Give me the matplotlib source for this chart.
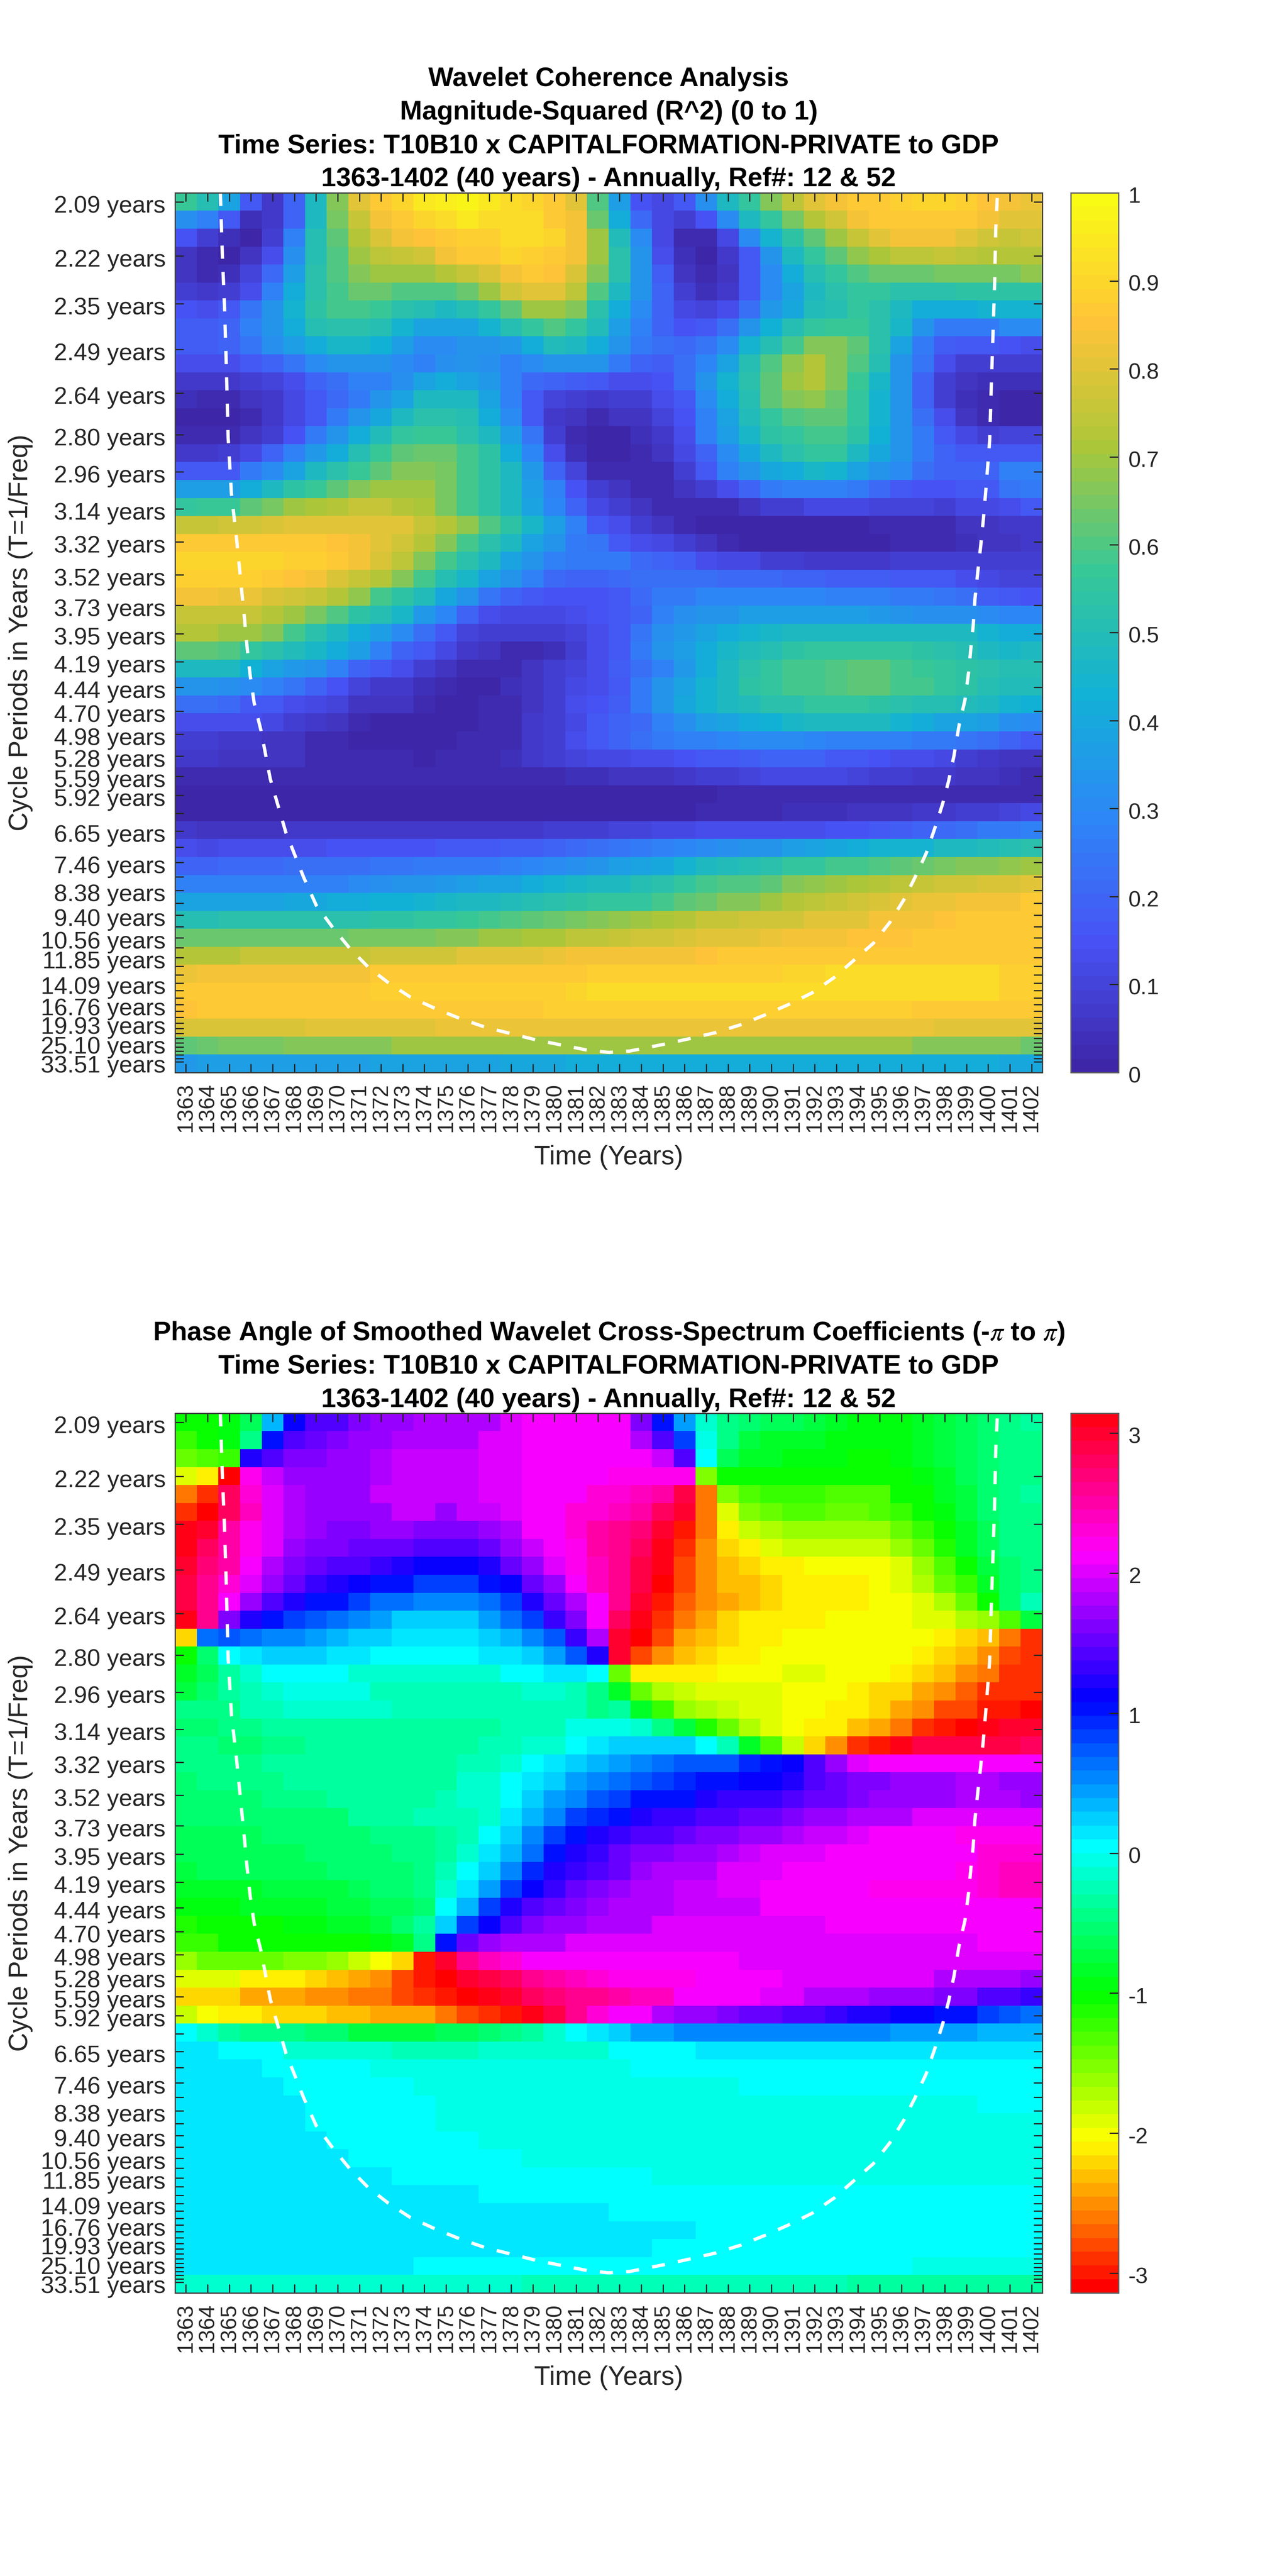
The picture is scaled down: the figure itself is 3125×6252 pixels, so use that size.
import colorsys
import numpy as np
import matplotlib
matplotlib.use('Agg')
import matplotlib.pyplot as plt
from matplotlib.colors import LinearSegmentedColormap, ListedColormap
from matplotlib.transforms import ScaledTranslation

plt.rcParams['font.family'] = ['Liberation Sans', 'DejaVu Sans']
plt.rcParams['mathtext.fontset'] = 'stix'

years = list(range(1363, 1403))

# tick periods, '' label spots are the unlabelled ticks
periods = [2.09, 2.22, 2.35, 2.49, 2.64, 2.80, 2.96, 3.14, 3.32, 3.52, 3.73, 3.95, 4.19,
           4.44, 4.70, 4.98, 5.28, 5.59, 5.92, 6.27, 6.65, 7.05, 7.46, 7.91, 8.38, 8.88,
           9.40, 9.96, 10.56, 11.18, 11.85, 12.55, 13.30, 14.09, 14.93, 15.82, 16.76,
           17.75, 18.81, 19.93, 21.12, 22.37, 23.70, 25.10, 26.60, 28.18, 29.85, 31.63, 33.51]
labelled = [2.09, 2.22, 2.35, 2.49, 2.64, 2.80, 2.96, 3.14, 3.32, 3.52, 3.73, 3.95, 4.19,
            4.44, 4.70, 4.98, 5.28, 5.59, 5.92, 6.65, 7.46, 8.38, 9.40, 10.56, 11.85,
            14.09, 16.76, 19.93, 25.10, 33.51]

freq_top = 0.4833
freq_bottom = 0.0243

# magnitude squared coherence, top row first
coherence = [
 [.57,.51,.38,.16,.07,.19,.47,.66,.80,.86,.90,.94,.96,.97,.95,.91,.90,.87,.80,.60,.37,.15,.11,.17,.32,.47,.56,.67,.74,.80,.84,.86,.87,.89,.90,.90,.89,.85,.84,.82],
 [.32,.27,.16,.04,.07,.20,.47,.65,.75,.83,.86,.90,.92,.94,.91,.91,.91,.87,.83,.64,.42,.21,.11,.08,.15,.30,.47,.56,.65,.72,.77,.83,.87,.87,.87,.87,.86,.83,.80,.80],
 [.15,.09,.04,.01,.08,.27,.50,.62,.72,.79,.83,.85,.87,.89,.89,.91,.91,.90,.83,.69,.49,.31,.12,.03,.03,.11,.30,.45,.54,.62,.70,.76,.80,.84,.84,.84,.81,.78,.76,.78],
 [.06,.02,.01,.05,.13,.32,.50,.60,.70,.74,.76,.78,.83,.86,.87,.90,.89,.87,.83,.69,.52,.33,.14,.04,.00,.07,.17,.33,.47,.55,.61,.68,.71,.74,.74,.76,.74,.73,.73,.73],
 [.06,.03,.04,.10,.21,.37,.52,.60,.67,.69,.69,.70,.72,.75,.79,.84,.87,.85,.79,.67,.52,.33,.18,.06,.02,.06,.16,.30,.42,.50,.55,.60,.63,.63,.63,.65,.65,.65,.65,.68],
 [.08,.07,.08,.14,.27,.41,.52,.59,.63,.63,.60,.60,.60,.64,.70,.77,.80,.80,.74,.60,.48,.33,.19,.08,.04,.07,.16,.30,.38,.47,.52,.55,.55,.53,.52,.52,.54,.54,.54,.54],
 [.15,.13,.16,.24,.33,.45,.54,.59,.59,.57,.53,.50,.47,.50,.55,.62,.70,.70,.66,.52,.41,.30,.20,.12,.10,.13,.23,.35,.40,.49,.51,.55,.52,.47,.42,.41,.42,.44,.44,.45],
 [.18,.18,.19,.27,.34,.42,.50,.53,.53,.50,.45,.38,.38,.38,.45,.50,.56,.60,.56,.49,.37,.28,.20,.15,.16,.23,.34,.43,.50,.56,.57,.57,.53,.46,.33,.26,.26,.26,.30,.30],
 [.18,.18,.20,.24,.32,.36,.42,.46,.46,.43,.36,.31,.31,.33,.34,.35,.42,.49,.47,.42,.33,.26,.22,.21,.24,.30,.44,.50,.58,.66,.66,.62,.52,.38,.25,.18,.17,.17,.15,.13],
 [.14,.13,.14,.16,.19,.24,.30,.34,.34,.33,.30,.28,.32,.33,.32,.27,.31,.34,.34,.33,.26,.20,.18,.23,.29,.38,.51,.60,.68,.73,.67,.60,.50,.34,.24,.13,.09,.08,.08,.08],
 [.07,.07,.07,.09,.10,.14,.20,.22,.27,.27,.32,.38,.41,.38,.35,.27,.21,.20,.18,.16,.14,.14,.15,.22,.33,.45,.53,.62,.70,.73,.67,.57,.46,.33,.20,.09,.06,.04,.04,.04],
 [.04,.02,.03,.05,.07,.12,.17,.21,.26,.33,.39,.47,.47,.47,.39,.27,.16,.10,.08,.07,.08,.09,.13,.17,.30,.41,.51,.61,.66,.68,.63,.55,.45,.33,.19,.09,.04,.02,.00,.00],
 [.01,.01,.01,.03,.07,.12,.17,.26,.33,.40,.47,.53,.53,.50,.42,.30,.17,.07,.06,.02,.05,.06,.10,.15,.27,.38,.49,.56,.60,.62,.62,.55,.45,.33,.22,.13,.05,.03,.00,.00],
 [.02,.02,.03,.05,.09,.15,.26,.33,.41,.49,.55,.57,.57,.52,.48,.36,.24,.09,.03,.00,.01,.04,.07,.13,.27,.37,.46,.54,.56,.58,.58,.54,.43,.33,.25,.17,.12,.09,.10,.10],
 [.07,.07,.09,.12,.19,.27,.35,.41,.51,.57,.61,.63,.63,.58,.54,.42,.29,.13,.04,.01,.00,.03,.06,.12,.19,.31,.40,.48,.53,.55,.55,.48,.40,.33,.25,.20,.17,.17,.16,.16],
 [.16,.16,.17,.25,.30,.39,.47,.52,.57,.62,.67,.67,.65,.59,.54,.47,.35,.20,.10,.03,.02,.02,.03,.09,.17,.28,.34,.40,.42,.46,.44,.39,.34,.30,.22,.20,.20,.20,.27,.27],
 [.37,.36,.36,.42,.47,.54,.57,.61,.66,.69,.69,.69,.65,.59,.54,.47,.37,.27,.15,.08,.06,.03,.03,.06,.09,.14,.19,.25,.27,.28,.28,.25,.21,.17,.15,.15,.16,.17,.24,.26],
 [.55,.57,.57,.61,.65,.69,.71,.73,.75,.75,.72,.71,.65,.59,.54,.47,.38,.29,.20,.12,.08,.05,.02,.02,.02,.03,.06,.08,.09,.11,.11,.11,.10,.10,.10,.09,.11,.12,.13,.17],
 [.75,.75,.77,.77,.79,.81,.81,.81,.81,.81,.80,.76,.73,.68,.60,.54,.46,.37,.27,.16,.14,.08,.06,.03,.01,.00,.00,.00,.00,.00,.01,.01,.02,.02,.03,.03,.05,.06,.07,.07],
 [.87,.87,.87,.87,.87,.87,.87,.85,.83,.81,.77,.73,.67,.58,.52,.47,.39,.33,.26,.24,.17,.14,.12,.09,.05,.03,.01,.01,.01,.01,.01,.01,.01,.02,.02,.03,.04,.05,.06,.07],
 [.90,.90,.90,.90,.90,.89,.88,.86,.83,.79,.74,.67,.59,.52,.47,.38,.33,.28,.26,.26,.25,.21,.20,.18,.13,.12,.11,.09,.08,.07,.07,.07,.07,.08,.08,.08,.08,.08,.08,.08],
 [.89,.89,.89,.89,.87,.85,.84,.79,.76,.72,.66,.58,.51,.46,.39,.33,.27,.21,.20,.20,.21,.23,.23,.23,.22,.21,.21,.21,.19,.19,.18,.18,.18,.16,.16,.16,.13,.12,.10,.10],
 [.83,.83,.82,.82,.79,.78,.76,.73,.68,.59,.54,.49,.40,.33,.24,.19,.16,.15,.15,.15,.17,.21,.26,.26,.29,.29,.29,.29,.29,.29,.28,.28,.27,.26,.26,.24,.22,.18,.16,.15],
 [.76,.76,.75,.75,.72,.69,.65,.60,.54,.50,.46,.35,.29,.20,.14,.11,.11,.11,.14,.15,.16,.20,.27,.32,.33,.34,.36,.36,.37,.37,.37,.37,.35,.33,.32,.32,.32,.31,.29,.29],
 [.72,.72,.70,.69,.67,.59,.53,.47,.41,.37,.30,.23,.16,.10,.08,.08,.08,.08,.10,.13,.16,.24,.32,.35,.39,.42,.44,.46,.47,.47,.47,.47,.47,.47,.47,.47,.47,.44,.42,.41],
 [.62,.61,.60,.56,.53,.49,.46,.41,.36,.27,.20,.17,.11,.07,.05,.02,.02,.04,.09,.14,.17,.26,.33,.37,.41,.46,.49,.50,.54,.55,.55,.55,.55,.55,.54,.52,.50,.47,.46,.47],
 [.47,.47,.47,.43,.38,.35,.33,.27,.20,.16,.13,.09,.05,.03,.03,.03,.05,.08,.10,.14,.18,.22,.28,.35,.42,.47,.53,.56,.58,.58,.60,.61,.61,.59,.57,.56,.54,.52,.51,.50],
 [.34,.34,.32,.30,.28,.24,.19,.15,.10,.07,.07,.04,.03,.01,.01,.04,.05,.08,.12,.14,.17,.26,.33,.38,.44,.47,.54,.56,.58,.59,.60,.61,.61,.59,.58,.56,.54,.50,.49,.49],
 [.22,.22,.21,.17,.16,.14,.12,.10,.06,.05,.05,.02,.01,.00,.03,.03,.05,.08,.13,.15,.18,.25,.33,.40,.45,.47,.49,.52,.53,.55,.55,.55,.54,.53,.51,.50,.49,.47,.44,.43],
 [.13,.13,.14,.14,.12,.09,.07,.05,.03,.01,.01,.01,.01,.00,.02,.03,.07,.08,.12,.16,.20,.21,.27,.32,.37,.39,.41,.43,.46,.47,.47,.47,.47,.44,.41,.39,.38,.36,.32,.30],
 [.08,.08,.07,.07,.06,.05,.03,.03,.01,.00,.00,.00,.00,.02,.03,.03,.07,.08,.14,.16,.19,.22,.26,.27,.28,.29,.31,.31,.31,.29,.28,.28,.27,.27,.26,.25,.24,.22,.19,.16],
 [.07,.07,.06,.06,.06,.05,.03,.03,.02,.03,.03,.01,.02,.02,.02,.04,.07,.08,.10,.11,.12,.13,.14,.15,.17,.17,.18,.19,.19,.19,.17,.16,.15,.14,.13,.11,.09,.07,.06,.05],
 [.02,.02,.03,.03,.03,.03,.03,.03,.03,.03,.03,.03,.03,.03,.03,.03,.03,.03,.04,.04,.05,.06,.06,.07,.08,.09,.10,.11,.11,.11,.11,.10,.09,.08,.07,.07,.06,.05,.04,.03],
 [.00,.00,.00,.00,.01,.01,.01,.01,.01,.01,.01,.01,.00,.00,.00,.00,.00,.00,.00,.00,.00,.00,.01,.01,.01,.02,.02,.02,.03,.03,.03,.03,.03,.03,.03,.03,.02,.03,.03,.03],
 [.01,.00,.00,.00,.00,.00,.00,.00,.00,.00,.00,.00,.00,.00,.00,.00,.00,.00,.00,.01,.01,.01,.01,.01,.02,.03,.03,.03,.04,.04,.04,.05,.06,.06,.07,.07,.08,.09,.10,.11],
 [.07,.06,.05,.05,.05,.07,.07,.07,.07,.07,.07,.07,.07,.07,.07,.07,.07,.08,.08,.09,.10,.10,.11,.12,.13,.13,.14,.14,.14,.14,.15,.15,.16,.18,.20,.21,.23,.25,.26,.28],
 [.14,.12,.13,.13,.13,.13,.14,.15,.15,.15,.15,.15,.16,.16,.16,.18,.18,.20,.21,.22,.24,.26,.27,.29,.31,.32,.33,.34,.36,.38,.40,.42,.44,.45,.45,.47,.47,.49,.51,.52],
 [.20,.20,.21,.21,.21,.22,.22,.23,.23,.24,.24,.25,.25,.25,.26,.27,.29,.30,.32,.34,.36,.38,.40,.44,.47,.49,.50,.53,.55,.56,.58,.59,.60,.62,.63,.65,.66,.66,.68,.70],
 [.27,.27,.27,.27,.27,.28,.28,.28,.30,.32,.33,.34,.35,.36,.38,.38,.41,.44,.46,.47,.48,.50,.53,.56,.58,.60,.60,.62,.66,.68,.70,.71,.73,.74,.76,.77,.78,.79,.79,.81],
 [.39,.38,.39,.39,.39,.40,.40,.42,.42,.43,.43,.45,.46,.47,.48,.49,.50,.52,.54,.55,.56,.56,.58,.62,.64,.66,.66,.70,.72,.74,.76,.77,.79,.80,.82,.82,.84,.84,.84,.86],
 [.51,.51,.52,.52,.52,.52,.52,.53,.53,.54,.54,.55,.56,.57,.58,.60,.62,.64,.65,.66,.68,.70,.71,.73,.75,.76,.77,.78,.78,.80,.80,.81,.83,.84,.84,.85,.86,.86,.86,.86],
 [.63,.63,.63,.63,.63,.63,.63,.63,.65,.65,.65,.65,.66,.67,.69,.70,.71,.71,.74,.74,.76,.77,.77,.79,.80,.80,.81,.82,.83,.84,.84,.85,.85,.85,.86,.86,.86,.86,.87,.87],
 [.72,.72,.72,.75,.75,.75,.76,.76,.76,.78,.78,.78,.78,.80,.80,.81,.81,.82,.83,.83,.83,.83,.84,.84,.85,.86,.86,.86,.86,.86,.87,.87,.87,.87,.87,.87,.87,.87,.87,.87],
 [.82,.84,.84,.84,.84,.84,.84,.84,.84,.86,.86,.86,.86,.86,.86,.87,.87,.87,.87,.88,.88,.88,.89,.89,.89,.89,.89,.89,.90,.90,.91,.91,.91,.91,.91,.91,.91,.91,.89,.89],
 [.86,.86,.87,.87,.87,.87,.87,.87,.87,.88,.88,.88,.88,.88,.88,.89,.89,.89,.90,.91,.91,.91,.91,.91,.91,.91,.91,.91,.91,.91,.91,.91,.91,.91,.91,.91,.91,.91,.88,.88],
 [.85,.86,.86,.86,.86,.86,.86,.87,.87,.87,.87,.87,.87,.87,.87,.87,.87,.89,.89,.89,.89,.89,.89,.89,.89,.89,.89,.89,.89,.88,.88,.88,.88,.88,.87,.87,.87,.87,.87,.87],
 [.79,.79,.79,.79,.79,.79,.80,.80,.80,.80,.80,.80,.82,.82,.82,.82,.82,.82,.82,.82,.82,.82,.82,.82,.82,.82,.82,.82,.82,.82,.82,.82,.82,.82,.82,.81,.80,.80,.80,.80],
 [.62,.64,.65,.65,.65,.67,.67,.67,.67,.67,.69,.69,.69,.69,.69,.69,.69,.70,.70,.70,.70,.70,.70,.70,.70,.70,.70,.70,.70,.70,.70,.70,.70,.70,.67,.67,.67,.67,.67,.64],
 [.35,.36,.36,.36,.36,.37,.37,.37,.37,.38,.38,.38,.38,.39,.39,.40,.40,.40,.41,.41,.41,.41,.41,.42,.42,.42,.42,.42,.42,.42,.42,.42,.42,.42,.42,.42,.41,.41,.40,.40],
]

# phase angle in radians, top row first
phase = [
 [-1.05,-1.05,-.9,-.65,.3,1.15,1.4,1.45,1.6,1.75,1.75,1.85,1.85,1.85,1.85,1.98,2.09,2.12,2.15,2.15,2.09,1.6,1.05,.42,-.15,-.4,-.55,-.6,-.65,-.75,-.8,-.9,-.9,-.9,-.8,-.7,-.6,-.5,-.45,-.35],
 [-1.25,-1.05,-.95,-.4,1.05,1.4,1.5,1.58,1.72,1.72,1.85,1.85,1.85,1.85,1.98,1.98,2.09,2.12,2.12,2.12,2.09,1.85,1.4,.8,-.05,-.45,-.7,-.8,-.85,-.85,-.9,-.9,-.9,-.95,-.8,-.75,-.65,-.55,-.45,-.4],
 [-1.45,-1.3,-1.2,1.25,1.45,1.6,1.6,1.72,1.72,1.85,1.9,1.9,1.9,1.9,2.0,2.0,2.09,2.12,2.12,2.12,2.09,2.09,1.88,1.45,.05,-.65,-.85,-.85,-.95,-.95,-.95,-1.0,-1.0,-.95,-.85,-.75,-.6,-.55,-.42,-.4],
 [-1.95,-2.15,-3.14,2.2,1.88,1.75,1.75,1.75,1.75,1.85,1.88,1.88,1.88,1.88,2.0,2.0,2.1,2.12,2.13,2.13,2.2,2.2,2.2,2.2,-1.55,-1.05,-1.05,-1.05,-1.05,-1.05,-1.05,-1.05,-1.05,-1.05,-.95,-.8,-.6,-.55,-.42,-.4],
 [-2.6,-2.9,2.8,2.35,2.0,1.85,1.75,1.75,1.75,1.88,1.88,1.88,1.88,1.88,2.0,2.0,2.09,2.15,2.15,2.3,2.3,2.4,2.5,2.85,-2.6,-1.55,-1.3,-1.2,-1.2,-1.2,-1.3,-1.3,-1.3,-1.05,-1.05,-.85,-.75,-.55,-.42,-.37],
 [-2.85,-3.1,2.75,2.4,2.0,1.85,1.75,1.75,1.75,1.75,1.9,1.9,1.73,1.9,1.9,2.0,2.09,2.15,2.3,2.35,2.4,2.5,2.75,3.0,-2.6,-1.95,-1.5,-1.4,-1.35,-1.35,-1.45,-1.45,-1.35,-1.25,-1.05,-.95,-.7,-.55,-.45,-.4],
 [3.1,3.0,2.55,2.2,2.0,1.85,1.73,1.6,1.6,1.72,1.75,1.62,1.62,1.62,1.72,1.85,2.09,2.15,2.3,2.5,2.6,2.7,2.95,-2.95,-2.6,-2.15,-1.85,-1.75,-1.65,-1.65,-1.65,-1.65,-1.65,-1.4,-1.25,-1.05,-.8,-.6,-.45,-.4],
 [3.05,2.8,2.55,2.2,2.0,1.72,1.6,1.6,1.5,1.5,1.52,1.42,1.42,1.42,1.55,1.75,1.95,2.15,2.25,2.5,2.65,2.8,3.05,-2.9,-2.5,-2.25,-2.09,-1.95,-1.85,-1.85,-1.85,-1.85,-1.85,-1.6,-1.4,-1.15,-.85,-.6,-.45,-.4],
 [2.95,2.7,2.5,2.1,1.85,1.6,1.5,1.42,1.42,1.32,1.2,1.15,1.15,1.15,1.25,1.55,1.75,2.0,2.2,2.4,2.65,2.9,3.14,-2.8,-2.5,-2.35,-2.2,-2.09,-2.09,-2.0,-2.0,-2.0,-2.0,-1.88,-1.65,-1.3,-1.05,-.75,-.55,-.4],
 [2.9,2.65,2.3,2.0,1.75,1.5,1.35,1.25,1.15,1.05,1.0,.8,.8,.8,1.0,1.15,1.55,1.75,2.1,2.4,2.6,2.9,-3.14,-2.8,-2.5,-2.35,-2.28,-2.18,-2.09,-2.09,-2.09,-2.09,-1.97,-1.88,-1.75,-1.45,-1.2,-.85,-.55,-.4],
 [2.9,2.6,2.09,1.75,1.4,1.25,1.05,1.0,.8,.68,.6,.52,.52,.52,.68,.8,1.18,1.5,1.85,2.1,2.6,3.0,-2.95,-2.7,-2.5,-2.4,-2.3,-2.2,-2.09,-2.09,-2.09,-2.09,-1.97,-1.97,-1.88,-1.7,-1.4,-1.05,-.55,-.2],
 [3.08,2.6,1.6,1.25,1.05,.85,.7,.6,.5,.4,.28,.28,.28,.28,.4,.6,.85,1.3,1.6,2.09,2.8,3.05,-2.9,-2.62,-2.42,-2.25,-2.15,-2.09,-2.09,-2.09,-1.97,-1.97,-1.97,-1.97,-1.87,-1.87,-1.75,-1.6,-1.3,-.7],
 [-2.2,.6,.75,.65,.55,.55,.42,.3,.2,.2,.13,.13,.13,.13,.2,.3,.5,.75,1.3,1.85,2.95,-3.14,-2.75,-2.45,-2.35,-2.2,-2.09,-2.09,-1.97,-1.97,-1.97,-1.97,-1.97,-1.97,-2.0,-2.09,-2.16,-2.3,-2.6,-2.9],
 [-1.05,-.55,.05,.15,.25,.25,.25,.15,.15,.05,.05,.05,.05,.05,.18,.15,.25,.42,.7,1.25,3.0,-2.75,-2.48,-2.35,-2.2,-2.09,-2.09,-1.97,-1.97,-1.97,-1.97,-1.97,-1.97,-1.97,-2.09,-2.2,-2.35,-2.55,-2.75,-2.9],
 [-.8,-.6,-.35,-.1,.05,.05,.05,.05,-.1,-.1,-.1,-.1,-.1,-.1,-.1,.05,.05,.13,.13,.05,-1.45,-2.15,-2.15,-2.09,-2.09,-1.97,-1.97,-1.97,-1.87,-1.87,-1.97,-1.97,-1.97,-2.09,-2.18,-2.35,-2.5,-2.65,-2.85,-2.9],
 [-.7,-.55,-.35,-.25,-.15,-.05,-.05,-.05,-.05,-.2,-.2,-.2,-.2,-.2,-.2,-.2,-.1,-.1,-.25,-.4,-.8,-1.4,-1.75,-1.85,-1.87,-1.87,-1.87,-1.87,-1.97,-1.97,-1.97,-2.09,-2.16,-2.25,-2.4,-2.55,-2.7,-2.85,-2.9,-2.9],
 [-.45,-.45,-.4,-.27,-.25,-.15,-.15,-.15,-.15,-.15,-.2,-.2,-.2,-.2,-.2,-.2,-.22,-.22,-.22,-.45,-.3,-.8,-1.2,-1.6,-1.7,-1.8,-1.87,-1.87,-1.97,-1.97,-2.09,-2.15,-2.25,-2.38,-2.55,-2.75,-2.82,-2.95,-3.0,-3.14],
 [-.5,-.5,-.42,-.42,-.3,-.3,-.3,-.3,-.3,-.35,-.35,-.35,-.35,-.35,-.35,-.25,-.25,-.25,-.05,-.05,-.02,-.15,-.4,-.75,-1.15,-1.4,-1.7,-1.87,-1.97,-2.09,-2.15,-2.35,-2.45,-2.65,-2.85,-3.0,-3.14,3.05,3.02,2.95],
 [-.45,-.45,-.5,-.5,-.4,-.4,-.3,-.3,-.3,-.3,-.35,-.35,-.35,-.35,-.2,-.2,-.1,-.1,.05,.13,.25,.25,.25,.25,.05,-.25,-.8,-1.3,-1.85,-2.25,-2.55,-2.85,-3.0,3.08,2.9,2.85,2.85,2.85,2.85,2.75],
 [-.45,-.45,-.45,-.45,-.35,-.35,-.35,-.35,-.3,-.3,-.3,-.3,-.3,-.2,-.2,-.1,.05,.15,.25,.33,.42,.5,.65,.72,.72,.78,.9,1.02,1.15,1.42,1.75,2.0,2.09,2.09,2.12,2.12,2.12,2.12,2.12,2.12],
 [-.5,-.45,-.45,-.45,-.45,-.35,-.35,-.35,-.35,-.35,-.3,-.3,-.3,-.18,-.1,.05,.1,.25,.4,.5,.6,.72,.85,.9,1.05,1.05,1.15,1.15,1.22,1.4,1.5,1.65,1.65,1.75,1.75,1.75,1.85,1.85,1.75,1.75],
 [-.5,-.55,-.5,-.5,-.45,-.45,-.45,-.35,-.35,-.35,-.3,-.3,-.2,-.18,-.1,.05,.28,.42,.52,.72,.8,1.0,1.05,1.05,1.18,1.28,1.35,1.35,1.42,1.5,1.55,1.65,1.75,1.75,1.75,1.75,1.85,1.85,1.85,1.75],
 [-.55,-.55,-.5,-.5,-.5,-.5,-.5,-.5,-.35,-.35,-.35,-.25,-.25,-.2,-.1,.13,.3,.5,.8,.95,1.05,1.2,1.3,1.35,1.38,1.42,1.5,1.5,1.6,1.68,1.72,1.85,1.85,1.85,1.97,1.97,1.97,1.97,1.97,1.97],
 [-.6,-.6,-.6,-.6,-.52,-.52,-.52,-.52,-.52,-.4,-.4,-.4,-.3,-.2,.05,.25,.5,.8,1.05,1.2,1.28,1.45,1.45,1.5,1.62,1.62,1.72,1.72,1.85,1.92,1.92,1.97,2.09,2.09,2.09,2.09,2.2,2.2,2.2,2.2],
 [-.65,-.65,-.65,-.65,-.65,-.65,-.5,-.5,-.5,-.5,-.4,-.4,-.3,-.1,.12,.38,.68,1.05,1.2,1.35,1.57,1.62,1.65,1.72,1.75,1.85,1.9,1.97,1.97,2.0,2.09,2.09,2.09,2.09,2.09,2.09,2.09,2.3,2.35,2.35],
 [-.75,-.65,-.65,-.65,-.65,-.65,-.65,-.55,-.55,-.55,-.5,-.4,-.25,.05,.25,.55,.95,1.2,1.35,1.45,1.55,1.7,1.83,1.85,1.85,1.97,1.97,1.97,2.09,2.09,2.09,2.09,2.15,2.15,2.15,2.15,2.25,2.3,2.4,2.4],
 [-.8,-.8,-.8,-.8,-.7,-.7,-.7,-.7,-.6,-.55,-.5,-.45,-.15,.13,.45,.85,1.15,1.35,1.5,1.62,1.7,1.85,1.85,1.95,1.95,1.97,1.97,2.09,2.09,2.09,2.09,2.09,2.2,2.2,2.2,2.2,2.2,2.3,2.4,2.45],
 [-.9,-.9,-.9,-.85,-.85,-.85,-.85,-.7,-.7,-.6,-.6,-.5,.05,.38,.8,1.2,1.42,1.5,1.6,1.7,1.8,1.8,1.85,1.95,1.95,1.95,1.95,2.09,2.09,2.09,2.09,2.09,2.09,2.09,2.09,2.12,2.12,2.15,2.15,2.15],
 [-1.1,-1.0,-1.0,-1.0,-1.0,-.9,-.9,-.8,-.8,-.72,-.55,-.38,.25,.85,1.15,1.4,1.6,1.72,1.75,1.85,1.85,1.85,1.97,1.97,1.97,1.97,1.97,1.97,1.97,1.97,2.09,2.09,2.09,2.09,2.09,2.09,2.09,2.09,2.09,2.09],
 [-1.2,-1.2,-1.05,-1.05,-1.05,-1.05,-1.05,-1.05,-1.05,-.95,-.85,-.4,1.0,1.55,1.72,1.85,1.85,1.85,1.97,1.97,1.97,1.97,1.97,1.97,1.97,1.97,1.97,1.97,1.97,1.97,1.97,1.97,1.97,1.97,1.97,1.97,1.97,2.09,2.09,2.09],
 [-1.6,-1.45,-1.45,-1.45,-1.45,-1.55,-1.55,-1.65,-1.8,-1.97,-2.25,-2.95,3.0,2.65,2.4,2.3,2.09,2.09,2.09,2.09,2.09,2.09,2.09,2.09,2.09,2.09,1.97,1.97,1.97,1.97,1.97,1.97,1.97,1.97,1.97,1.97,1.97,1.97,1.97,1.97],
 [-1.95,-1.95,-1.95,-2.09,-2.09,-2.09,-2.2,-2.3,-2.38,-2.55,-2.78,-2.95,-3.14,3.0,2.85,2.75,2.6,2.5,2.4,2.3,2.2,2.2,2.2,2.2,2.09,2.09,2.09,2.09,1.97,1.97,1.97,1.97,1.97,1.97,1.97,1.85,1.85,1.85,1.85,1.72],
 [-2.25,-2.25,-2.25,-2.36,-2.36,-2.36,-2.5,-2.5,-2.6,-2.65,-2.75,-2.85,-2.95,-3.14,3.05,3.0,2.8,2.7,2.6,2.6,2.5,2.4,2.4,2.09,2.09,2.09,2.09,1.97,1.97,1.85,1.85,1.85,1.72,1.72,1.72,1.6,1.6,1.45,1.45,1.35],
 [-1.85,-1.97,-2.09,-2.09,-2.18,-2.18,-2.18,-2.28,-2.28,-2.4,-2.45,-2.45,-2.6,-2.75,-2.85,-3.0,3.05,2.85,2.6,2.3,2.09,2.09,1.85,1.72,1.72,1.6,1.48,1.48,1.4,1.4,1.3,1.18,1.18,1.1,1.1,1.05,1.0,.85,.72,.6],
 [.05,-.15,-.3,-.42,-.42,-.42,-.55,-.55,-.7,-.7,-.7,-.7,-.6,-.6,-.5,-.42,-.3,-.1,.05,.13,.25,.4,.4,.5,.5,.52,.52,.52,.52,.52,.52,.52,.52,.42,.42,.42,.42,.32,.32,.32],
 [.13,.13,.05,.05,.05,-.15,-.15,-.15,-.15,-.15,-.27,-.27,-.27,-.27,-.15,-.15,-.15,-.15,-.15,-.15,.05,.05,.05,.05,.13,.13,.13,.13,.13,.13,.13,.13,.13,.13,.13,.13,.13,.13,.13,.13],
 [.13,.13,.13,.13,.05,.05,.05,.05,.05,-.05,-.05,-.05,-.05,-.05,-.05,-.05,-.05,-.05,-.05,-.05,-.05,.05,.05,.05,.05,.05,.05,.05,.05,.05,.05,.05,.05,.05,.05,.05,.05,.05,.05,.05],
 [.13,.13,.13,.13,.13,.05,.05,.05,.05,.05,.05,-.05,-.05,-.05,-.05,-.05,-.05,-.05,-.05,-.05,-.05,-.05,-.05,-.05,-.05,-.05,.05,.05,.05,.05,.05,.05,.05,.05,.05,.05,.05,.05,.05,.05],
 [.13,.13,.13,.13,.13,.13,.05,.05,.05,.05,.05,.05,-.05,-.05,-.05,-.05,-.05,-.05,-.05,-.05,-.05,-.05,-.05,-.05,-.05,-.05,-.05,-.05,-.05,-.05,-.05,-.05,-.05,-.05,-.05,-.05,-.05,.05,.05,.05],
 [.13,.13,.13,.13,.13,.13,.05,.05,.05,.05,.05,.05,-.05,-.05,-.05,-.05,-.05,-.05,-.05,-.05,-.05,-.05,-.05,-.05,-.05,-.05,-.05,-.05,-.05,-.05,-.05,-.05,-.05,-.05,-.05,-.05,-.05,-.05,-.05,-.05],
 [.13,.13,.13,.13,.13,.13,.13,.05,.05,.05,.05,.05,.05,.05,-.05,-.05,-.05,-.05,-.05,-.05,-.05,-.05,-.05,-.05,-.05,-.05,-.05,-.05,-.05,-.05,-.05,-.05,-.05,-.05,-.05,-.05,-.05,-.05,-.05,-.05],
 [.13,.13,.13,.13,.13,.13,.13,.13,.05,.05,.05,.05,.05,.05,.05,.05,-.05,-.05,-.05,-.05,-.05,-.05,-.05,-.05,-.05,-.05,-.05,-.05,-.05,-.05,-.05,-.05,-.05,-.05,-.05,-.05,-.05,-.05,-.05,-.05],
 [.13,.13,.13,.13,.13,.13,.13,.13,.13,.13,.05,.05,.05,.05,.05,.05,.05,.05,.05,.05,.05,.05,-.05,-.05,-.05,-.05,-.05,-.05,-.05,-.05,-.05,-.05,-.05,-.05,-.05,-.05,-.05,-.05,-.05,-.05],
 [.13,.13,.13,.13,.13,.13,.13,.13,.13,.13,.13,.13,.13,.13,.05,.05,.05,.05,.05,.05,.05,.05,.05,.05,.05,.05,.05,.05,.05,.05,.05,.05,.05,.05,.05,.05,.05,.05,.05,.05],
 [.13,.13,.13,.13,.13,.13,.13,.13,.13,.13,.13,.13,.13,.13,.13,.13,.13,.13,.13,.13,.05,.05,.05,.05,.05,.05,.05,.05,.05,.05,.05,.05,.05,.05,.05,.05,.05,.05,.05,.05],
 [.13,.13,.13,.13,.13,.13,.13,.13,.13,.13,.13,.13,.13,.13,.13,.13,.13,.13,.13,.13,.13,.13,.13,.13,.05,.05,.05,.05,.05,.05,.05,.05,.05,.05,.05,.05,.05,.05,.05,.05],
 [.13,.13,.13,.13,.13,.13,.13,.13,.13,.13,.13,.13,.13,.13,.13,.13,.13,.13,.13,.13,.13,.13,.05,.05,.05,.05,.05,.05,.05,.05,.05,.05,.05,.05,.05,.05,.05,.05,.05,.05],
 [.13,.13,.13,.13,.13,.13,.13,.13,.13,.13,.13,.05,.05,.05,.05,.05,.05,.05,.05,.05,.05,.05,.05,.05,.05,.05,.05,.05,.05,.05,.05,.05,.05,.05,-.05,-.05,-.05,-.05,-.05,-.05],
 [-.15,-.15,-.15,-.15,-.15,-.15,-.15,-.15,-.15,-.15,-.15,-.15,-.15,-.15,-.15,-.15,-.27,-.27,-.27,-.27,-.27,-.27,-.27,-.27,-.27,-.27,-.27,-.27,-.27,-.27,-.27,-.35,-.35,-.35,-.35,-.35,-.35,-.35,-.35,-.35],
]

# cone of influence
coi_years = [1364.59, 1364.68, 1364.78, 1364.86, 1364.95, 1365.10, 1365.35, 1365.71, 1365.82, 1365.96,
             1366.15, 1366.47, 1366.89, 1367.61, 1368.43, 1369.01, 1369.79, 1370.55, 1371.39, 1372.34,
             1373.36, 1374.52, 1375.66, 1376.82, 1378.09, 1379.23, 1380.39, 1381.55, 1382.50, 1383.47,
             1384.99, 1386.28, 1387.42, 1388.58, 1389.72, 1390.88, 1391.90, 1392.93, 1393.82, 1394.71,
             1395.47, 1396.12, 1396.63, 1397.14, 1397.52, 1397.90, 1398.17, 1398.42, 1398.66, 1398.93,
             1399.10, 1399.21, 1399.31, 1399.39, 1399.52, 1399.65, 1399.78, 1399.88, 1399.97, 1400.07,
             1400.14, 1400.22, 1400.30, 1400.35, 1400.43]
coi_freq = [.4833, .4517, .4246, .3952, .3556, .3264, .3014, .2603, .2466, .2320,
            .2171, .2025, .1776, .1496, .1262, .1116, .0997, .0892, .0795, .0711,
            .0636, .0576, .0524, .0479, .0443, .0411, .0385, .0359, .0348, .0355,
            .0389, .0421, .0451, .0492, .0544, .0602, .0660, .0741, .0830, .0918,
            .1027, .1146, .1262, .1386, .1511, .1645, .1761, .1894, .2055, .2186,
            .2333, .2466, .2574, .2713, .2853, .2984, .3130, .3264, .3395, .3541,
            .3805, .4085, .4364, .4642, .4833]

titles_top = ['Wavelet Coherence Analysis',
              'Magnitude-Squared (R^2) (0 to 1)',
              'Time Series: T10B10 x CAPITALFORMATION-PRIVATE to GDP',
              '1363-1402 (40 years) - Annually, Ref#: 12 & 52']
titles_bottom = [r'Phase Angle of Smoothed Wavelet Cross-Spectrum Coefficients (-$\pi$ to $\pi$)',
                 'Time Series: T10B10 x CAPITALFORMATION-PRIVATE to GDP',
                 '1363-1402 (40 years) - Annually, Ref#: 12 & 52']

parula_anchors = [(.2422, .1504, .6603), (.2810, .3228, .9579), (.1786, .5289, .9682),
                  (.0689, .6948, .8394), (.2161, .7843, .5923), (.6720, .7793, .2227),
                  (.9970, .7659, .2199), (.9769, .9839, .0805)]
parula = LinearSegmentedColormap.from_list('parula', parula_anchors, N=64)
hsv64 = ListedColormap([colorsys.hsv_to_rgb(i / 64, 1, 1) for i in range(64)])

W, H = 3125, 6252
GREY = '#262626'
PX = 0.72  # points per pixel at dpi 100
fig = plt.figure(figsize=(W / 100, H / 100), dpi=100)
label_shift = ScaledTranslation(0, -5 / 100, fig.dpi_scale_trans)


def px_rect(left, top, right, bottom):
    return [left / W, 1 - bottom / H, (right - left) / W, (bottom - top) / H]


def draw_panel(top, bottom, values, cmap, vmin, vmax, cticks, clabels, title_lines, title_y):
    ax = fig.add_axes(px_rect(425, top, 2531, bottom))
    im = ax.imshow(np.array(values), cmap=cmap, vmin=vmin, vmax=vmax, aspect='auto',
                   interpolation='nearest', origin='upper',
                   extent=[1362.5, 1402.5, freq_bottom, freq_top])
    ax.plot(coi_years, coi_freq, color='white', lw=8 * PX, ls=(0, (4, 4)))
    ax.set_xlim(1362.5, 1402.5)
    ax.set_ylim(freq_bottom, freq_top)

    ax.set_xticks(years)
    ax.set_xticklabels([str(y) for y in years], rotation=90, fontsize=53 * PX, color=GREY)
    ax.set_yticks([1 / p for p in periods])
    ax.set_yticklabels(['%.2f years' % p if p in labelled else '' for p in periods],
                       fontsize=58 * PX, color=GREY)
    ax.tick_params(axis='both', direction='in', length=21 * PX, width=3 * PX, color=GREY,
                   top=True, right=True)
    ax.tick_params(axis='x', pad=26 * PX)
    ax.tick_params(axis='y', pad=23 * PX)
    for lbl in ax.get_yticklabels():
        lbl.set_transform(lbl.get_transform() + label_shift)
    for s in ax.spines.values():
        s.set_linewidth(3 * PX)
        s.set_color('#404040')

    cax = fig.add_axes(px_rect(2600, top, 2716, bottom))
    cb = fig.colorbar(im, cax=cax, ticks=cticks)
    cb.ax.set_yticklabels(clabels, fontsize=54 * PX, color=GREY)
    cb.ax.tick_params(direction='in', length=22 * PX, width=3 * PX, color=GREY, pad=24 * PX)
    for lbl in cb.ax.get_yticklabels():
        lbl.set_transform(lbl.get_transform() + label_shift)
    cb.outline.set_linewidth(3 * PX)
    cb.outline.set_edgecolor('#606060')

    for i, line in enumerate(title_lines):
        fig.text(1478 / W, 1 - (title_y + i * 81) / H, line, ha='center', va='center',
                 fontsize=64.6 * PX, fontweight='bold', color='black')
    fig.text(1478 / W, 1 - (bottom + 206) / H, 'Time (Years)', ha='center', va='center',
             fontsize=64 * PX, color=GREY)
    fig.text(50 / W, 1 - (top + bottom) / 2 / H, 'Cycle Periods in Years (T=1/Freq)', rotation=90,
             ha='center', va='center', fontsize=64 * PX, color=GREY)


draw_panel(468, 2603, coherence, parula, 0, 1,
           [0, .1, .2, .3, .4, .5, .6, .7, .8, .9, 1],
           ['0', '0.1', '0.2', '0.3', '0.4', '0.5', '0.6', '0.7', '0.8', '0.9', '1'],
           titles_top, 192)
draw_panel(3430, 5565, phase, hsv64, -np.pi, np.pi,
           [-3, -2, -1, 0, 1, 2, 3],
           ['-3', '-2', '-1', '0', '1', '2', '3'],
           titles_bottom, 3236)

fig.savefig('out.png', dpi=100)
